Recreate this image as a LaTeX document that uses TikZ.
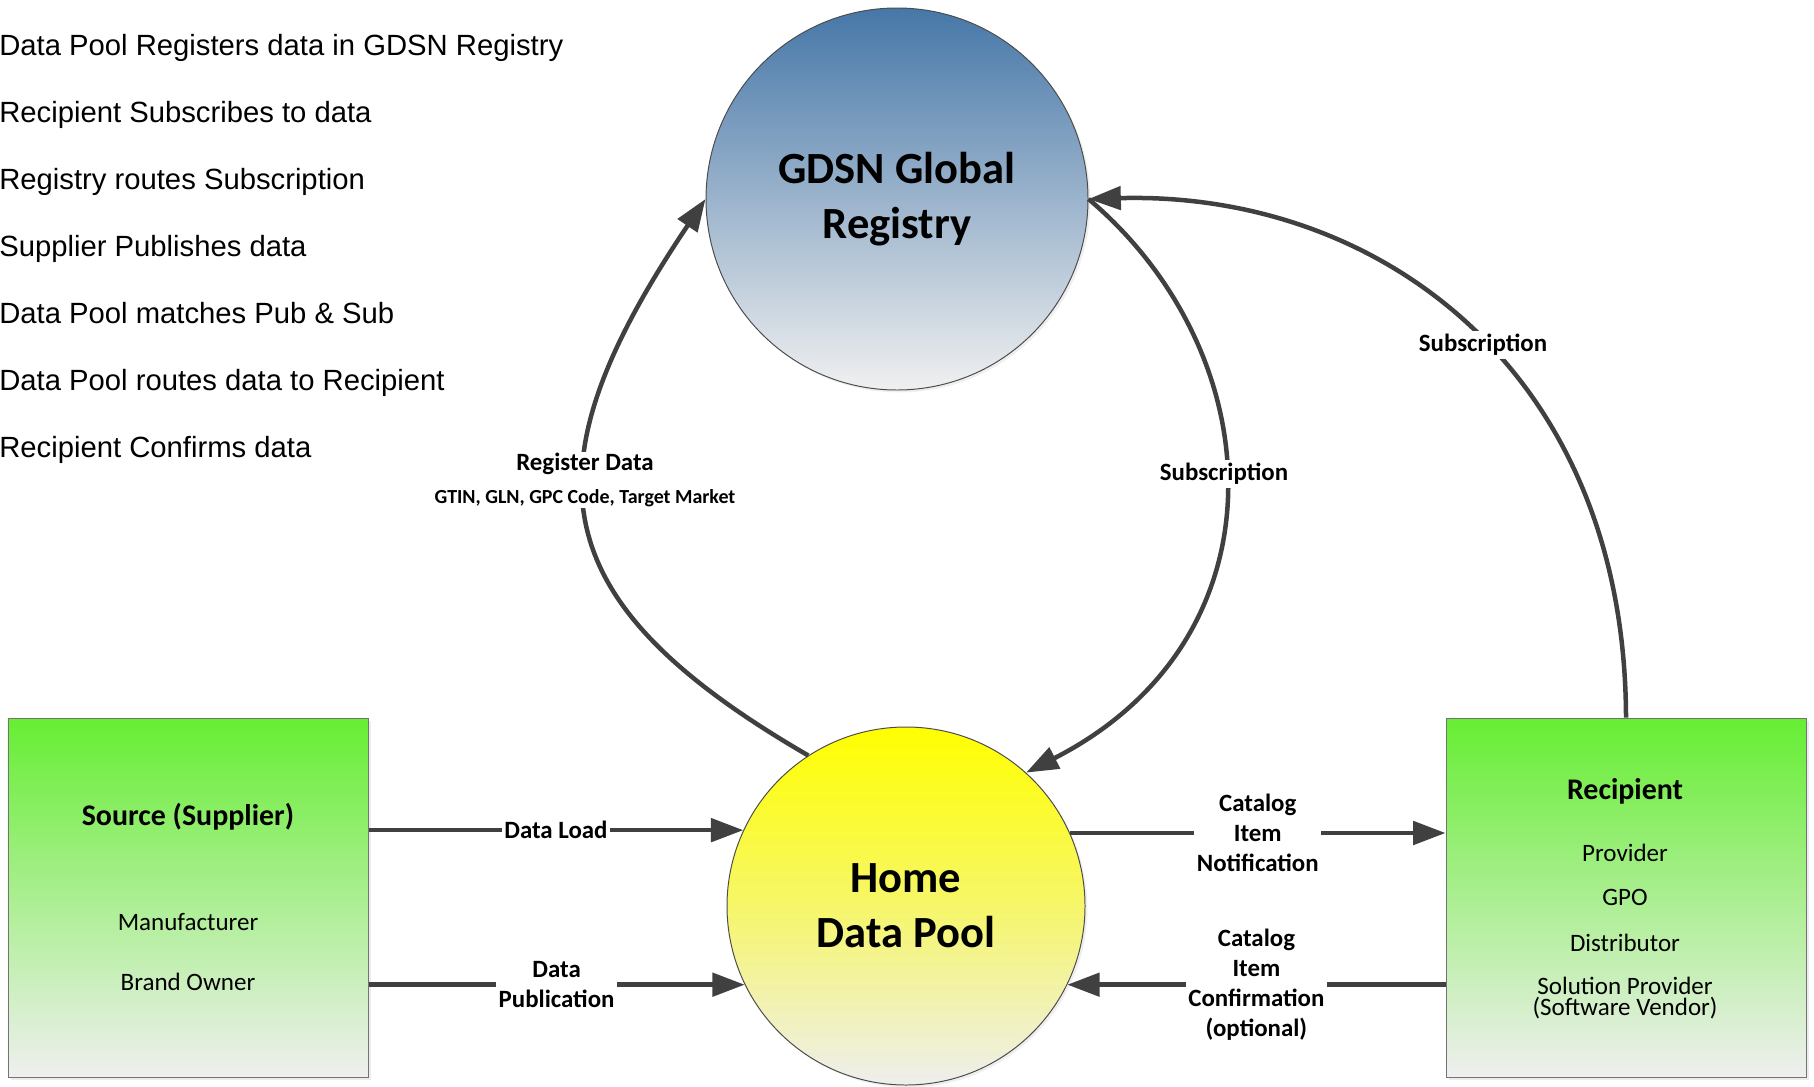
\documentclass[tikz,border=0pt]{standalone}
\usepackage{fontspec}
\setmainfont{Carlito}
\newfontfamily\stepfont{Liberation Sans}
\usetikzlibrary{arrows.meta,shadows}

\definecolor{flowgray}{HTML}{404040}
\definecolor{boxtop}{HTML}{66EE33}
\definecolor{boxbot}{HTML}{EFEFEF}
\definecolor{gdsntop}{HTML}{4677A8}
\definecolor{gdsnbot}{HTML}{F0F0F0}
\definecolor{pooltop}{HTML}{FFFF00}
\definecolor{poolmid}{HTML}{F6F66A}
\definecolor{poolbot}{HTML}{EEEEEE}

\begin{document}
\begin{tikzpicture}[yscale=-1, x=0.25mm, y=0.25mm,
    flow/.style={draw=flowgray, line width=3.2pt, -{Triangle[length=23pt, width=16.5pt]}},
    lbl/.style={fill=white, inner sep=2pt, align=center, font=\bfseries\fontsize{17.7}{21.4}\selectfont},
    steptxt/.style={anchor=base west, inner sep=0pt, font=\stepfont\fontsize{20.8}{25}\selectfont},
    party/.style={rectangle, draw=black!55, line width=0.7pt, minimum width=90mm, minimum height=89.75mm,
      top color=boxtop, bottom color=boxbot,
      drop shadow={shadow xshift=0.8mm, shadow yshift=-0.8mm, fill=black!15}},
    boxhead/.style={font=\bfseries\fontsize{21.3}{26}\selectfont},
    boxitem/.style={align=center, font=\fontsize{17.8}{15.6}\selectfont},
    hub/.style={circle, draw=black!70, line width=0.7pt, inner sep=0pt, align=center,
      font=\bfseries\fontsize{31.7}{39}\selectfont,
      drop shadow={shadow xshift=0.6mm, shadow yshift=-0.6mm, fill=black!12}}]
    \useasboundingbox (0,0) rectangle (1814,1086);

    % the steps, top left
    \node[steptxt] (s1) at (-1,55) {Data Pool Registers data in GDSN Registry};
    \node[steptxt] (s2) at (-1,122) {Recipient Subscribes to data};
    \node[steptxt] (s3) at (-1,189) {Registry routes Subscription};
    \node[steptxt] (s4) at (-1,256) {Supplier Publishes data};
    \node[steptxt] (s5) at (-1,323) {Data Pool matches Pub \& Sub};
    \node[steptxt] (s6) at (-1,390) {Data Pool routes data to Recipient};
    \node[steptxt] (s7) at (-1,457) {Recipient Confirms data};

    \node[hub, minimum size=95.5mm, top color=gdsntop, bottom color=gdsnbot] (gdsn) at (897,199) {GDSN Global\\Registry};
    \node[hub, minimum size=89.5mm, top color=pooltop, bottom color=poolbot, middle color=poolmid] (home) at (906,906) {Home\\Data Pool};

    \node[party] (src) at (188,897.5) {};
    \node[boxhead] (srctitle) at (188,817) {Source (Supplier)};
    \node[boxitem] (manuf) at (188,922) {Manufacturer};
    \node[boxitem] (brand) at (188,982) {Brand Owner};

    \node[party] (rcp) at (1626,897.5) {};
    \node[boxhead] (rcptitle) at (1625,791) {Recipient};
    \node[boxitem] (prov) at (1625,853) {Provider};
    \node[boxitem] (gpo) at (1625,897) {GPO};
    \node[boxitem] (dist) at (1625,943) {Distributor};
    \node[boxitem] (solprov) at (1625,998) {Solution Provider\\(Software Vendor)};

    % registry loop
    \draw[flow] (home.123.5) .. controls (540,600) and (523,470) .. (gdsn.180);
    \node[lbl, inner sep=1pt] (regdata) at (585,480)
      {Register Data\\[1.5pt]{\fontsize{14.2}{17}\selectfont GTIN, GLN, GPC Code, Target Market}};
    \draw[flow] (gdsn.0) .. controls (1273,355) and (1288,639) .. (home.48.6);
    \node[lbl] (subin) at (1224,474) {Subscription};
    \draw[flow] (rcp.north) .. controls (1625,371) and (1379,191) .. (gdsn.0);
    \node[lbl] (subout) at (1483,345) {Subscription};

    \draw[flow] (src.east |- home.155.9) -- node[lbl] (dataload) {Data Load} (home.155.9);
    \draw[flow] (src.east |- home.206.2) -- node[lbl] (datapub) {Data\\Publication} (home.206.2);
    \draw[flow] (home.24.1) -- node[lbl] (notif) {Catalog\\Item\\Notification} (home.24.1 -| rcp.west);
    \draw[flow] (rcp.west |- home.334.2) -- node[lbl] (confirm) {Catalog\\Item\\Confirmation\\(optional)} (home.334.2);
  \end{tikzpicture}
\end{document}
